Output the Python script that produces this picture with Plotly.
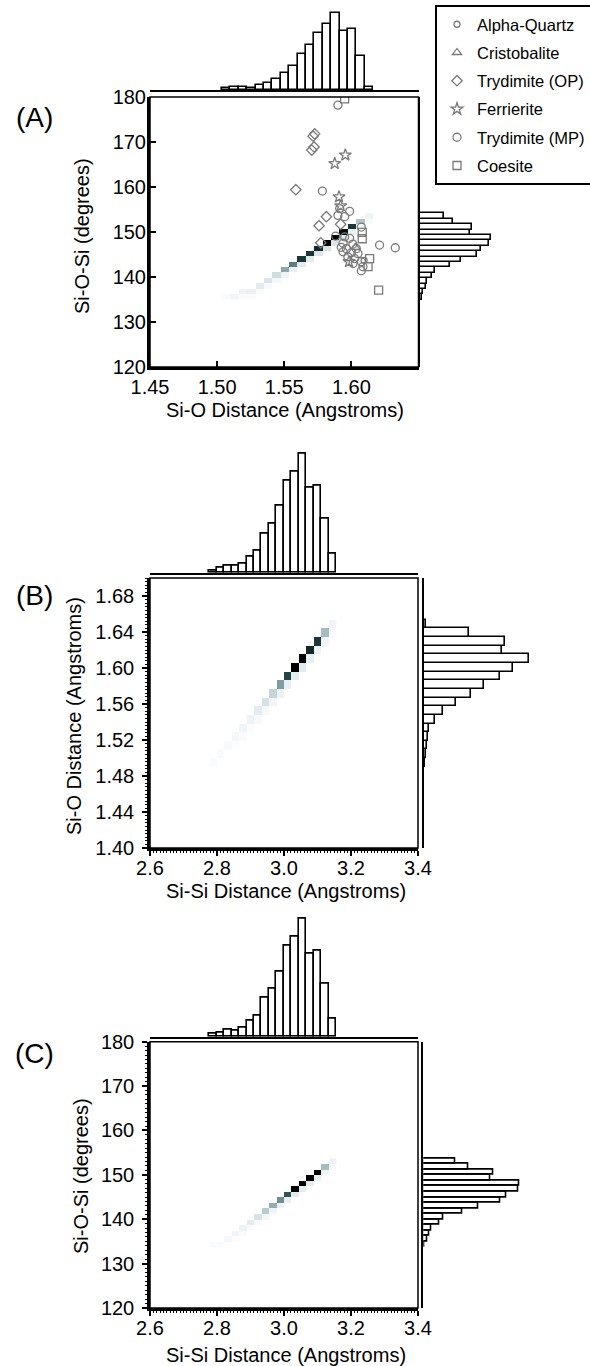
import numpy as np
import plotly.graph_objects as go

W, H = 590, 1366
FONT = "Liberation Sans, Arial, Helvetica, sans-serif"
GREY = "#7a7a7a"

# ---------------- Panel A : Si-O-Si angle vs Si-O distance ----------------
a_sio_bin_start = 1.5036
a_sio_bin_width = 0.00626
a_sio_counts = [2, 3, 3, 2.5, 5, 7, 11, 17, 24, 36, 45, 57, 66, 77, 59, 61, 34, 3]

a_ang_bin_start = 134.95
a_ang_bin_width = 1.2
a_ang_counts = [2, 3, 6, 7, 12, 15, 30, 41, 57, 61, 69, 71, 50, 52, 33, 24]

# density cells: for each Si-O bin, angle-bin index of the main cell and its density
a_cell_row = [0, 0, 1, 1, 2, 3, 4, 5, 6, 7, 8, 9, 10, 11, 12, 13, 14, 15]
a_cell_val = [0.04, 0.07, 0.10, 0.12, 0.15, 0.19, 0.24, 0.42, 0.55, 0.80, 0.80, 0.85,
              1.00, 1.00, 0.95, 0.80, 0.32, 0.09]
a_cell_low = [0, 0, 0.03, 0.03, 0.04, 0.05, 0.06, 0.10, 0.12, 0.15, 0.15, 0.18,
              0.20, 0.18, 0.15, 0.12, 0.08, 0.04]

# experimental structures
alpha_quartz_x = [1.6095]
alpha_quartz_y = [143.7]
cristobalite_x = [1.6030]
cristobalite_y = [146.6]
trydimite_op_x = [1.5715, 1.5727, 1.5705, 1.5722, 1.5586, 1.5814, 1.5759, 1.5920, 1.5772]
trydimite_op_y = [171.3, 171.8, 168.2, 168.9, 159.4, 153.4, 151.4, 151.7, 147.6]
ferrierite_x = [1.5955, 1.5876, 1.5908, 1.5920, 1.5982]
ferrierite_y = [167.1, 165.2, 157.8, 155.8, 143.4]
trydimite_mp_x = [1.5900, 1.5784, 1.6210, 1.6327, 1.5913, 1.5900, 1.5987, 1.5950, 1.6074,
                  1.5883, 1.5950, 1.5987, 1.5938, 1.6011, 1.5963, 1.6037, 1.5938, 1.6000,
                  1.6049, 1.5974, 1.6024, 1.6074, 1.6012, 1.6086, 1.6074, 1.5925]
trydimite_mp_y = [178.2, 159.1, 147.1, 146.5, 155.2, 153.7, 154.6, 153.4, 151.1,
                  149.1, 148.9, 148.6, 147.5, 147.3, 146.3, 146.3, 145.6, 145.4,
                  145.2, 144.5, 144.1, 143.4, 143.0, 142.3, 141.4, 146.6]
coesite_x = [1.5950, 1.6081, 1.6081, 1.6136, 1.6124, 1.6203]
coesite_y = [179.6, 149.9, 148.5, 144.1, 142.3, 137.1]

# ---------------- Panel B : Si-O distance vs Si-Si distance ----------------
sisi_bin_start = 2.777
sisi_bin_width = 0.02224
b_sisi_counts = [2, 5, 7, 6.7, 9.3, 16, 21.7, 39.3, 48.7, 66.7, 92, 101, 119.3, 85.3, 86.7, 53.7, 19.3]

b_sio_bin_start = 1.4903
b_sio_bin_width = 0.0096
b_sio_counts = [1.3, 2, 3, 4, 5, 11, 19, 32, 47, 60, 76, 89, 105, 78, 81, 45, 2]

b_cell_row = [0, 1, 2, 3, 4, 5, 6, 7, 8, 9, 10, 11, 12, 13, 14, 15, 16]
b_cell_val = [0.03, 0.04, 0.05, 0.06, 0.08, 0.10, 0.14, 0.20, 0.27, 0.45, 0.75, 1.00,
              1.00, 0.85, 0.80, 0.35, 0.08]
b_cell_low = [0, 0, 0, 0.02, 0.03, 0.03, 0.05, 0.06, 0.08, 0.10, 0.12, 0.15,
              0.15, 0.12, 0.10, 0.08, 0.05]

# ---------------- Panel C : Si-O-Si angle vs Si-Si distance ----------------
c_sisi_counts = [2.7, 4, 6.7, 6.3, 9.3, 15.7, 21, 39, 48, 65, 91.3, 100, 117.7, 83.3, 85.7, 53.3, 18]

c_ang_bin_start = 133.7
c_ang_bin_width = 1.25
c_ang_counts = [1, 4, 6, 8, 16, 20, 39, 55, 77, 83, 95, 96, 67, 70, 45, 32]

c_cell_row = [0, 0, 1, 2, 3, 4, 5, 6, 7, 8, 9, 10, 11, 12, 13, 14, 15]
c_cell_val = [0.03, 0.04, 0.06, 0.08, 0.10, 0.14, 0.20, 0.30, 0.40, 0.50, 0.70, 1.00,
              1.00, 1.00, 1.00, 0.35, 0.10]
c_cell_low = [0, 0, 0, 0.02, 0.03, 0.04, 0.05, 0.07, 0.08, 0.10, 0.12, 0.15,
              0.15, 0.15, 0.12, 0.08, 0.05]

COLORSCALE = [[0.0, "#ffffff"], [0.1, "#eef3f5"], [0.25, "#cbdadf"], [0.4, "#93adb4"],
              [0.55, "#5c7d84"], [0.75, "#224548"], [0.9, "#0b1a1c"], [1.0, "#000000"]]


def centers(start, width, n):
    return [start + width * (k + 0.5) for k in range(n)]


def density(rows, vals, lows, nrows):
    z = np.full((nrows, len(rows)), np.nan)
    for i, (r, v, lo) in enumerate(zip(rows, vals, lows)):
        z[r, i] = v
        if lo > 0 and r - 1 >= 0:
            z[r - 1, i] = lo
    return z


def dx(l, r):
    return [l / W, r / W]


def dy(top, bottom):
    return [1 - bottom / H, 1 - top / H]


fig = go.Figure()

bar_style = dict(marker=dict(color="white", line=dict(color="black", width=1.6)), showlegend=False,
                 hoverinfo="skip")


def add_panel(n, xc, yc, z, topx, topw, topc, righty, rightw, rightc):
    xa = "x" if n == 1 else f"x{n}"
    ya = "y" if n == 1 else f"y{n}"
    fig.add_trace(go.Heatmap(x=xc, y=yc, z=z, colorscale=COLORSCALE, zmin=0, zmax=1,
                             showscale=False, xaxis=xa, yaxis=ya, hoverongaps=False))
    fig.add_trace(go.Bar(x=centers(topx, topw, len(topc)), y=topc, width=topw,
                         xaxis=f"x{n+1}", yaxis=f"y{n+1}", **bar_style))
    fig.add_trace(go.Bar(y=centers(righty, rightw, len(rightc)), x=rightc, width=rightw,
                         orientation="h", xaxis=f"x{n+2}", yaxis=f"y{n+2}", **bar_style))


# Panel A
a_xc = centers(a_sio_bin_start, a_sio_bin_width, len(a_sio_counts))
a_yc = centers(a_ang_bin_start, a_ang_bin_width, len(a_ang_counts))
add_panel(1, a_xc, a_yc, density(a_cell_row, a_cell_val, a_cell_low, len(a_ang_counts)),
          a_sio_bin_start, a_sio_bin_width, a_sio_counts,
          a_ang_bin_start, a_ang_bin_width, a_ang_counts)

markers = [
    ("Alpha-Quartz", alpha_quartz_x, alpha_quartz_y, "circle-open", 6),
    ("Cristobalite", cristobalite_x, cristobalite_y, "triangle-up-open", 8),
    ("Trydimite (OP)", trydimite_op_x, trydimite_op_y, "diamond-open", 8),
    ("Ferrierite", ferrierite_x, ferrierite_y, "star-open", 9),
    ("Trydimite (MP)", trydimite_mp_x, trydimite_mp_y, "circle-open", 8),
    ("Coesite", coesite_x, coesite_y, "square-open", 8),
]
for name, xs, ys, sym, size in markers:
    fig.add_trace(go.Scatter(x=xs, y=ys, mode="markers", name=name, legendgroup=name,
                             marker=dict(symbol=sym, size=size, color=GREY,
                                         line=dict(color=GREY, width=1.3)),
                             xaxis="x", yaxis="y"))

# Panel B
s_xc = centers(sisi_bin_start, sisi_bin_width, len(b_sisi_counts))
b_yc = centers(b_sio_bin_start, b_sio_bin_width, len(b_sio_counts))
add_panel(4, s_xc, b_yc, density(b_cell_row, b_cell_val, b_cell_low, len(b_sio_counts)),
          sisi_bin_start, sisi_bin_width, b_sisi_counts,
          b_sio_bin_start, b_sio_bin_width, b_sio_counts)

# Panel C
c_yc = centers(c_ang_bin_start, c_ang_bin_width, len(c_ang_counts))
add_panel(7, s_xc, c_yc, density(c_cell_row, c_cell_val, c_cell_low, len(c_ang_counts)),
          sisi_bin_start, sisi_bin_width, c_sisi_counts,
          c_ang_bin_start, c_ang_bin_width, c_ang_counts)

tickfont = dict(family=FONT, size=20, color="black")
hidden = dict(visible=False, showgrid=False, zeroline=False, automargin=False)


def main_axes(n, xdom, ydom, xr, yr, xticks, yticks, xfmt, yfmt, inside, xminor=None, yminor=None):
    xs = "xaxis" if n == 1 else f"xaxis{n}"
    ys = "yaxis" if n == 1 else f"yaxis{n}"
    xa = "x" if n == 1 else f"x{n}"
    ya = "y" if n == 1 else f"y{n}"
    common = dict(showgrid=False, zeroline=False, showline=True, linecolor="black",
                  ticks="inside" if inside else "outside", ticklen=6 if inside else 5,
                  tickwidth=2 if inside else 1.5, tickcolor="black", tickfont=tickfont,
                  automargin=False)
    xd = dict(domain=xdom, range=xr, tickvals=xticks, tickformat=xfmt, anchor=ya,
              linewidth=3 if inside else 2.5, ticklabelstandoff=0 if inside else -5, **common)
    yd = dict(domain=ydom, range=yr, tickvals=yticks, tickformat=yfmt, anchor=xa,
              linewidth=3 if inside else 2.5, ticklabelstandoff=-3 if inside else 4, **common)
    if xminor:
        xd["minor"] = dict(dtick=xminor, ticks="outside", ticklen=2, tickwidth=1, tickcolor="black")
    if yminor:
        yd["minor"] = dict(dtick=yminor, ticks="outside", ticklen=2, tickwidth=1, tickcolor="black")
    xt = dict(domain=xdom, range=xr, anchor=f"y{n+1}", showline=True, linewidth=2,
              linecolor="black", showticklabels=False, ticks="", showgrid=False, zeroline=False,
              automargin=False)
    yr_ = dict(domain=ydom, range=yr, anchor=f"x{n+2}", showline=True, linewidth=2,
               linecolor="black", showticklabels=False, ticks="", showgrid=False, zeroline=False,
               automargin=False)
    return {xs: xd, ys: yd, f"xaxis{n+1}": xt, f"yaxis{n+2}": yr_}


layout_axes = {}
# Panel A
layout_axes.update(main_axes(1, dx(150, 418.5), dy(97, 367), [1.45, 1.65], [120, 180],
                             [1.45, 1.50, 1.55, 1.60], [120, 130, 140, 150, 160, 170, 180],
                             ".2f", "d", True))
layout_axes["yaxis2"] = dict(domain=dy(10, 90), range=[0, 80], anchor="x2", **hidden)
layout_axes["xaxis3"] = dict(domain=dx(420, 590), range=[0, 170], anchor="y3", **hidden)
# Panel B
layout_axes.update(main_axes(4, dx(150, 418), dy(578, 848), [2.6, 3.4], [1.40, 1.70],
                             [2.6, 2.8, 3.0, 3.2, 3.4],
                             [1.40, 1.44, 1.48, 1.52, 1.56, 1.60, 1.64, 1.68],
                             ".1f", ".2f", False, xminor=0.01, yminor=0.004))
layout_axes["yaxis5"] = dict(domain=dy(572.7 - 125, 572.7), range=[0, 125], anchor="x5", **hidden)
layout_axes["xaxis6"] = dict(domain=dx(424, 590), range=[0, 166], anchor="y6", **hidden)
# Panel C
layout_axes.update(main_axes(7, dx(150, 418), dy(1041.7, 1308), [2.6, 3.4], [120, 180],
                             [2.6, 2.8, 3.0, 3.2, 3.4], [120, 130, 140, 150, 160, 170, 180],
                             ".1f", "d", False, xminor=0.01, yminor=1))
layout_axes["yaxis8"] = dict(domain=dy(1036.7 - 125, 1036.7), range=[0, 125], anchor="x8", **hidden)
layout_axes["xaxis9"] = dict(domain=dx(423.3, 590), range=[0, 166.7], anchor="y9", **hidden)

shapes = []
for xa, ya in [("x", "y"), ("x4", "y4"), ("x7", "y7")]:
    shapes.append(dict(type="rect", xref=f"{xa} domain", yref=f"{ya} domain",
                       x0=0, x1=1, y0=0, y1=1, line=dict(color="black", width=1.5)))


def ann(text, xp, yp, size=20, angle=0):
    return dict(text=text, x=xp / W, y=1 - yp / H, xref="paper", yref="paper",
                showarrow=False, xanchor="center", yanchor="middle", textangle=angle,
                font=dict(family=FONT, size=size, color="black"))


annotations = [
    ann("(A)", 34, 117, 28), ann("(B)", 34, 595, 28), ann("(C)", 34, 1053, 28),
    ann("Si-O-Si (degrees)", 82, 236, angle=-90),
    ann("Si-O Distance (Angstroms)", 285, 410),
    ann("Si-O Distance (Angstroms)", 74, 716, angle=-90),
    ann("Si-Si Distance (Angstroms)", 286, 891),
    ann("Si-O-Si (degrees)", 81, 1176, angle=-90),
    ann("Si-Si Distance (Angstroms)", 286, 1355),
]

fig.update_layout(
    width=W, height=H, margin=dict(l=0, r=0, t=0, b=0, pad=0, autoexpand=False),
    paper_bgcolor="white", plot_bgcolor="white",
    font=dict(family=FONT, color="black"),
    bargap=0, barmode="overlay",
    shapes=shapes, annotations=annotations,
    legend=dict(x=435 / W, y=1 - 5 / H, xanchor="left", yanchor="top",
                bordercolor="black", borderwidth=2, bgcolor="white",
                font=dict(family=FONT, size=16.5, color="black"),
                itemwidth=30, tracegroupgap=3.8, traceorder="grouped"),
    **layout_axes,
)

fig.write_html("out.html")
